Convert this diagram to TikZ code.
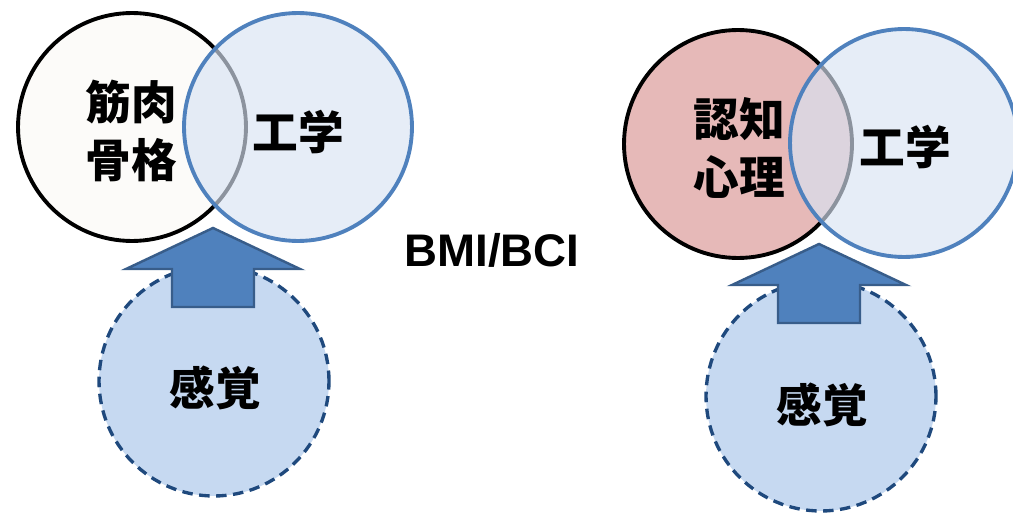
\documentclass[tikz,border=0pt]{standalone}
\usepackage{fontspec}
\usepackage{xcolor}
\setmainfont{Liberation Sans}
\newfontfamily\cjk{Noto Sans CJK JP}
\definecolor{softwhite}{HTML}{FCFBF9}
\definecolor{psyred}{HTML}{E6B9B8}
\definecolor{engblue}{HTML}{4F81BD}
\definecolor{engfill}{HTML}{D8E3F3}
\definecolor{sensefill}{HTML}{C6D9F1}
\definecolor{sensedraw}{HTML}{1F497D}
\definecolor{arrowdraw}{HTML}{385D8A}

\begin{document}
\begin{tikzpicture}[x=0.02cm,y=-0.02cm,lbl/.style={inner sep=0pt, align=center, font=\cjk\bfseries\fontsize{26}{33}\selectfont}]
\tikzstyle{field}=[circle, line width=2.2pt, minimum size=4.56cm, inner sep=0pt]
\tikzstyle{eng}=[field, draw=engblue, fill=engfill, fill opacity=0.65]
\tikzstyle{sense}=[circle, minimum size=4.6cm, inner sep=0pt, fill=sensefill, draw=sensedraw, line width=1.9pt, dash pattern=on 0.21cm off 0.13cm]
\tikzstyle{uparrow}=[fill=engblue, draw=arrowdraw, line width=1.4pt, line join=miter]
\useasboundingbox (0,0) rectangle (1013,513);
% left pair: body and engineering
\node[field, draw=black, fill=softwhite] (body) at (132,127) {};
\node[eng] (eng1) at (298,127) {};
\node[lbl] (bodytxt) at (131,131) {筋肉\\骨格};
\node[lbl] (eng1txt) at (298,132) {工学};
% right pair: cognition and engineering
\node[field, draw=black, fill=psyred] (mind) at (738,144) {};
\node[eng] (eng2) at (904,143) {};
\node[lbl] (mindtxt) at (739,148) {認知\\心理};
\node[lbl] (eng2txt) at (905,147) {工学};
% sensation circles below
\node[sense] (sense1) at (214,381) {};
\node[sense] (sense2) at (821,396) {};
\node[lbl] (sense1txt) at (215,388) {感覚};
\node[lbl] (sense2txt) at (822,405) {感覚};
% block arrows pointing up into the overlaps
\coordinate (tip1) at (213,228);
\coordinate (tip2) at (819,244);
\foreach \t in {tip1,tip2}{\draw[uparrow] (\t) -- ++(-87,41) -- ++(46,0) -- ++(0,38) -- ++(82,0) -- ++(0,-38) -- ++(46,0) -- cycle;}
\node[font=\bfseries\fontsize{26}{30}\selectfont] (bmi) at (492,250) {BMI/BCI};
\end{tikzpicture}
\end{document}
